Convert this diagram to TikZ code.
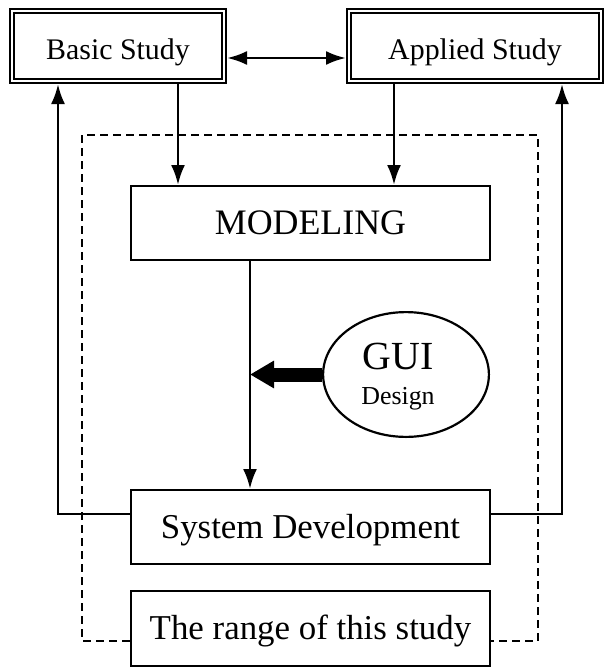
\documentclass[tikz,border=0pt]{standalone}
\usepackage{fontspec}
\setmainfont{Liberation Serif}
\usetikzlibrary{arrows.meta,shapes.geometric}

\begin{document}
\begin{tikzpicture}[x=1bp,y=-1bp,
  study/.style={draw,double,double distance=2bp,line width=1.8bp,outer sep=2.8bp,
    minimum height=70.4bp,fill=white,text height=30bp,text depth=2bp,
    font=\fontsize{30}{36}\selectfont},
  stage/.style={draw,line width=2.2bp,minimum width=358.8bp,minimum height=73.8bp,
    fill=white,text height=28bp,text depth=6bp,font=\fontsize{35}{42}\selectfont},
  head/.tip={Latex[length=20bp,width=14bp]},
  arr/.style={line width=2.8bp,-head}]
\useasboundingbox (0,0) rectangle (605,668);
% range of this study
\draw [line width=2bp,dash pattern=on 8bp off 5bp] (82,135) rectangle (538,641);
\node (basic) [study,minimum width=212.4bp] at (118,46) {Basic Study};
\node (applied) [study,minimum width=252.4bp] at (475,46) {Applied Study};
\node (modeling) [stage,font=\fontsize{36}{43}\selectfont] at (310.5,223) {MODELING};
\node (sysdev) [stage] at (310.5,527) {System Development};
\node (range) [stage,minimum height=74.8bp] at (310.5,628.5) {The range of this study};
\node (gui) [ellipse,draw,line width=2.2bp,minimum width=165.8bp,minimum height=124.8bp] at (406,374.5) {};
\node (guitext) [align=center,inner sep=0pt,font=\fontsize{26}{35}\selectfont]
  at ([xshift=-8bp,yshift=-2bp]gui.center) {{\fontsize{40}{35}\selectfont GUI}\\Design};
\coordinate (split) at ([xshift=-60.5bp]modeling.south);
\draw [arr] (split) -- (split |- sysdev.north);
\draw [line width=14bp,-{Triangle[length=24bp,width=26bp]}] (gui.west) -- (gui.west -| split);
\draw [arr] ([xshift=60bp]basic.south) -- ([xshift=60bp]basic.south |- modeling.north);
\draw [arr] ([xshift=-81bp]applied.south) -- ([xshift=-81bp]applied.south |- modeling.north);
\draw [arr] ([yshift=13bp]sysdev.west) -| ([xshift=-60bp]basic.south);
\draw [arr] ([yshift=13bp]sysdev.east) -| ([xshift=87bp]applied.south);
\draw [line width=2.8bp,head-head] ([yshift=-12bp]basic.east) -- ([yshift=-12bp]basic.east -| applied.west);
\end{tikzpicture}
\end{document}
